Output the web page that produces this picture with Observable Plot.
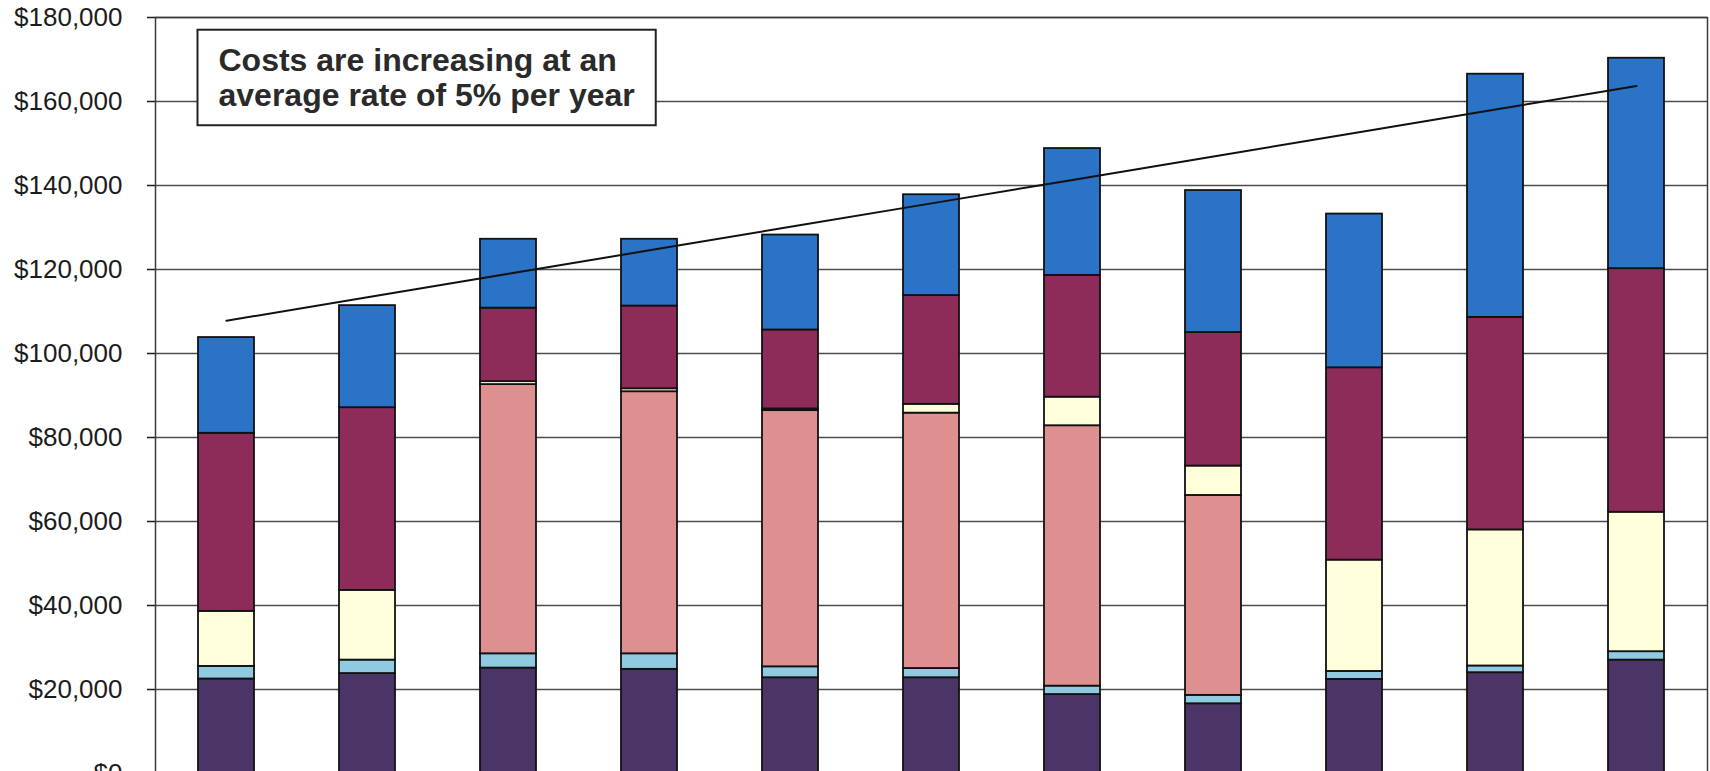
<!DOCTYPE html>
<html>
<head>
<meta charset="utf-8">
<script src="https://cdn.jsdelivr.net/npm/d3@7"></script>
<script src="https://cdn.jsdelivr.net/npm/@observablehq/plot@0.6"></script>
<style>
  html, body { margin: 0; padding: 0; background: #ffffff; overflow: hidden; }
  #chart svg { display: block; }
</style>
</head>
<body>
<div id="chart"></div>
<script>
// Eleven yearly periods
const periods = ["Year 1", "Year 2", "Year 3", "Year 4", "Year 5", "Year 6",
                 "Year 7", "Year 8", "Year 9", "Year 10", "Year 11"];

// Cost components, stacked bottom to top (dollars)
const seriesNames = ["Component A", "Component B", "Component C", "Component D", "Component E", "Component F"];
const componentA = [22500, 23800, 25100, 24800, 22800, 22800, 18800, 16600, 22400, 24000, 27000];
const componentB = [3000, 3200, 3400, 3700, 2600, 2200, 2000, 2000, 1900, 1600, 2000];
const componentC = [0, 0, 64100, 62400, 61000, 60800, 62000, 47600, 0, 0, 0];
const componentD = [13100, 16600, 700, 700, 400, 2100, 6800, 7000, 26500, 32400, 33200];
const componentE = [42400, 43500, 17500, 19700, 18800, 25900, 29000, 31800, 45800, 50600, 58000];
const componentF = [22800, 24300, 16400, 15900, 22600, 24000, 30200, 33800, 36600, 57900, 50100];
const seriesColors = ["#4b3466", "#8fcae1", "#de8f90", "#ffffdb", "#8d2c59", "#2a73c6"];

// Y axis tick values
const yTickValues = [0, 20000, 40000, 60000, 80000, 100000, 120000, 140000, 160000, 180000];

const noteLines = ["Costs are increasing at an", "average rate of 5% per year"];

// Long-format rows for the stacked bars
const seriesValues = [componentA, componentB, componentC, componentD, componentE, componentF];
const rows = [];
seriesNames.forEach((name, s) => {
  periods.forEach((p, i) => {
    const v = seriesValues[s][i];
    if (v > 0) rows.push({period: p, series: name, value: v});
  });
});

// Least-squares trend through the yearly totals
const totals = periods.map((p, i) => d3.sum(seriesValues, arr => arr[i]));
const idx = periods.map((p, i) => i);
const mx = d3.mean(idx), my = d3.mean(totals);
const slope = d3.sum(idx, i => (i - mx) * (totals[i] - my)) / d3.sum(idx, i => (i - mx) ** 2);
const trend = periods.map((p, i) => ({period: p, value: my + slope * (i - mx)}));

const chart = Plot.plot({
  width: 1710,
  height: 771,
  marginLeft: 155,
  marginRight: 3,
  marginTop: 17,
  marginBottom: -2,
  style: {fontFamily: "'Liberation Sans', Arial, sans-serif", background: "#ffffff", color: "#1c1c1c"},
  x: {domain: periods, paddingInner: 0.6, paddingOuter: 0.3, axis: null},
  y: {domain: [0, 180000], axis: null, label: null},
  color: {domain: seriesNames, range: seriesColors},
  marks: [
    Plot.ruleY(yTickValues, {stroke: "#4c4c4c", strokeWidth: 1.5}),
    Plot.axisY({
      ticks: yTickValues,
      tickFormat: d3.format("$,.0f"),
      tickSize: 8,
      tickPadding: 25,
      fontSize: 26,
      label: null,
      strokeWidth: 1.5
    }),
    Plot.barY(rows, {
      x: "period", y: "value", fill: "series",
      stroke: "#111111", strokeWidth: 1.8
    }),
    Plot.line(trend, {x: "period", y: "value", stroke: "#111111", strokeWidth: 2}),
    Plot.text([noteLines.join("\n")], {
      frameAnchor: "top-left",
      dx: 63, dy: 28,
      lineAnchor: "top",
      textAnchor: "start",
      fontSize: 32,
      fontWeight: "bold",
      lineHeight: 1.11,
      fill: "#2a2a2a"
    }),
    Plot.frame({stroke: "#3a3a3a", strokeWidth: 1.5})
  ]
});

document.getElementById("chart").appendChild(chart);

// Boxed note: white panel with a dark border sized around the note text,
// placed inside the text's own group so it shares its coordinate system
const noteGroup = Array.from(chart.querySelectorAll('g[aria-label="text"]')).pop();
if (noteGroup) {
  const bb = noteGroup.getBBox();
  const padX = 21, padY = 12;
  const rect = document.createElementNS("http://www.w3.org/2000/svg", "rect");
  rect.setAttribute("x", bb.x - padX);
  rect.setAttribute("y", bb.y - padY);
  rect.setAttribute("width", bb.width + 2 * padX);
  rect.setAttribute("height", bb.height + 2 * padY);
  rect.setAttribute("fill", "#ffffff");
  rect.setAttribute("stroke", "#222222");
  rect.setAttribute("stroke-width", 2);
  noteGroup.insertBefore(rect, noteGroup.firstChild);
}
</script>
</body>
</html>
